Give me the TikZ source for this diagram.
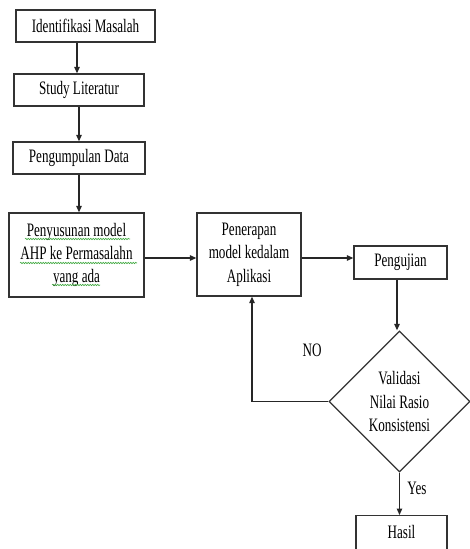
\documentclass[tikz,border=0pt]{standalone}
\usepackage{fontspec}
\setmainfont{Liberation Serif}[FakeStretch=0.69]
\usetikzlibrary{shapes.geometric,arrows.meta,calc,decorations.pathmorphing}
\begin{document}
\begin{tikzpicture}[x=1pt,y=-1pt,
  box/.style={draw=black!80, line width=1.3pt, inner sep=0pt, align=center, font=\fontsize{19}{23.3}\selectfont},
  lbl/.style={inner sep=0pt, font=\fontsize{19}{23.3}\selectfont},
  arr/.style={draw=black!85, line width=1.1pt, -{Triangle[length=6.5pt,width=5.5pt]}},
  squig/.style={draw=green!55!black!75, line width=0.6pt, decorate, decoration={snake, amplitude=0.7pt, segment length=2.5pt}}]
\useasboundingbox (0,0) rectangle (470,549);
\clip (0,0) rectangle (470,549);
\node[box, minimum width=139pt, minimum height=32pt] (ident) at (85.5,26) {Identifikasi Masalah};
\node[box, minimum width=130pt, minimum height=32pt] (study) at (79,90) {Study Literatur};
\node[box, minimum width=132pt, minimum height=32pt] (kumpul) at (79,158) {Pengumpulan Data};
\node[box, minimum width=135pt, minimum height=84pt] (susun) at (76.5,255) {Penyusunan model\\AHP ke Permasalahn\\yang ada};
\node[box, minimum width=104pt, minimum height=83pt] (terap) at (249,254.5) {Penerapan\\model kedalam\\Aplikasi};
\node[box, minimum width=93pt, minimum height=33pt] (uji) at (400.5,262.5) {Pengujian};
\node[box, shape=diamond, aspect=1, minimum width=141pt, minimum height=141pt] (valid) at (399.5,401.5) {Validasi\\Nilai Rasio\\Konsistensi};
\node[box, anchor=north, minimum width=91pt, text height=20pt, text depth=40pt, inner ysep=3.3pt] (hasil) at (401.5,515) {Hasil};
\draw[arr] ([xshift=-2pt]study.north |- ident.south) -- ([xshift=-2pt]study.north);
\draw[arr] (study.south) -- (kumpul.north);
\draw[arr] (kumpul.south) -- (kumpul.south |- susun.north);
\draw[arr] ([yshift=-3pt]susun.east) -- ([yshift=-3pt]susun.east -| terap.west);
\draw[arr] ([yshift=-3.5pt]terap.east) -- ([yshift=-3.5pt]terap.east -| uji.west);
\draw[arr] ([xshift=-3.5pt]uji.south) -- ([xshift=-3.5pt]uji.south |- valid.north);
\draw[arr] (valid.south) -- (valid.south |- hasil.north);
\draw[arr] (valid.west) -| ([xshift=3pt]terap.south);
\node[lbl] (no) at (312,350) {NO};
\node[lbl] (yes) at (417,488) {Yes};
\draw[squig] ($(susun.center)+(-51.5,-16)$) -- ($(susun.center)+(53.5,-16)$);
\draw[squig] ($(susun.center)+(-56.5,8)$) -- ($(susun.center)+(60.5,8)$);
\draw[squig] ($(susun.center)+(-24.5,30)$) -- ($(susun.center)+(23.5,30)$);
\end{tikzpicture}
\end{document}
